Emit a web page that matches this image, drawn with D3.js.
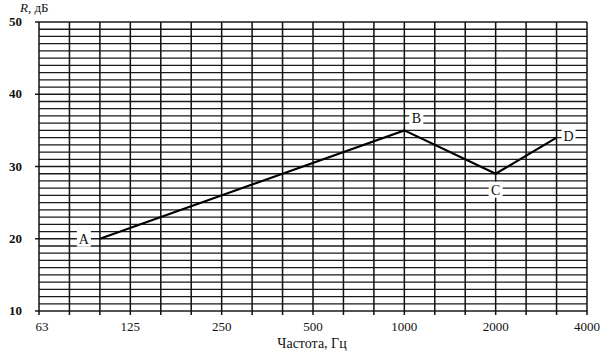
<!DOCTYPE html>
<html>
<head>
<meta charset="utf-8">
<script src="https://cdn.jsdelivr.net/npm/d3@7"></script>
<style>
  body { margin: 0; background: #fff; }
  text { font-family: "Liberation Serif", "DejaVu Serif", serif; fill: #111; }
</style>
</head>
<body>
<svg width="606" height="355"></svg>
<script>
// third-octave bands along the x axis
var bands = ["63","80","100","125","160","200","250","315","400","500","630","800",
             "1000","1250","1600","2000","2500","3150","4000"];
var xTickLabels = ["63","125","250","500","1000","2000","4000"];
var yTicks = [10, 20, 30, 40, 50];

// curve points
var pointNames = ["A", "B", "C", "D"];
var pointFreq = ["100", "1000", "2000", "3150"];
var pointR = [20, 35, 29, 34];

var svg = d3.select("svg"),
    plotL = 39, plotR = 587, plotT = 22, plotB = 311;

var x = d3.scalePoint().domain(bands).range([plotL, plotR]);
var y = d3.scaleLinear().domain([10, 50]).range([plotB, plotT]);

var grid = svg.append("g");

// horizontal lines, every 1 dB
grid.selectAll(".h")
    .data(d3.range(10, 51))
    .enter().append("line")
    .attr("x1", function(d) { return yTicks.indexOf(d) >= 0 ? plotL - 4 : plotL; })
    .attr("x2", plotR)
    .attr("y1", function(d) { return y(d); })
    .attr("y2", function(d) { return y(d); })
    .attr("stroke", "#1a1a1a")
    .attr("stroke-width", 1.3);

// vertical lines at each band
grid.selectAll(".v")
    .data(bands)
    .enter().append("line")
    .attr("x1", function(d) { return x(d); })
    .attr("x2", function(d) { return x(d); })
    .attr("y1", plotT)
    .attr("y2", plotB + 4)
    .attr("stroke", "#111")
    .attr("stroke-width", 1.5);

// y labels
svg.selectAll(".yl")
    .data(yTicks)
    .enter().append("text")
    .attr("x", 22)
    .attr("y", function(d) { return y(d) + 4; })
    .attr("text-anchor", "end")
    .style("font-size", "13px")
    .style("font-weight", "bold")
    .text(function(d) { return d; });

// x labels
svg.selectAll(".xl")
    .data(xTickLabels)
    .enter().append("text")
    .attr("x", function(d) { return x(d) + (d === "63" ? 3 : 0); })
    .attr("y", 331)
    .attr("text-anchor", "middle")
    .style("font-size", "13px")
    .text(function(d) { return d; });

// axis titles
var rt = svg.append("text").attr("x", 20).attr("y", 12).style("font-size", "13px");
rt.append("tspan").style("font-style", "italic").text("R");
rt.append("tspan").text(", дБ");

svg.append("text")
    .attr("x", 312).attr("y", 348)
    .attr("text-anchor", "middle")
    .style("font-size", "14px")
    .text("Частота,  Гц");

// the curve
var pts = pointNames.map(function(n, i) { return { name: n, f: pointFreq[i], r: pointR[i] }; });

svg.append("path")
    .datum(pts)
    .attr("d", d3.line().x(function(d) { return x(d.f); }).y(function(d) { return y(d.r); }))
    .attr("fill", "none")
    .attr("stroke", "#000")
    .attr("stroke-width", 2.2);

// point letters on white patches
var offs = { A: [-16, 0], B: [12, -12], C: [0, 16], D: [12, -2] };
var lab = svg.selectAll(".pl")
    .data(pts)
    .enter().append("g")
    .attr("transform", function(d) {
        var o = offs[d.name];
        return "translate(" + (x(d.f) + o[0]) + "," + (y(d.r) + o[1]) + ")";
    });
lab.append("rect")
    .attr("x", -7).attr("y", -8).attr("width", 14).attr("height", 16)
    .attr("fill", "#fff");
lab.append("text")
    .attr("text-anchor", "middle")
    .attr("dy", 5)
    .style("font-size", "14px")
    .text(function(d) { return d.name; });
</script>
</body>
</html>
